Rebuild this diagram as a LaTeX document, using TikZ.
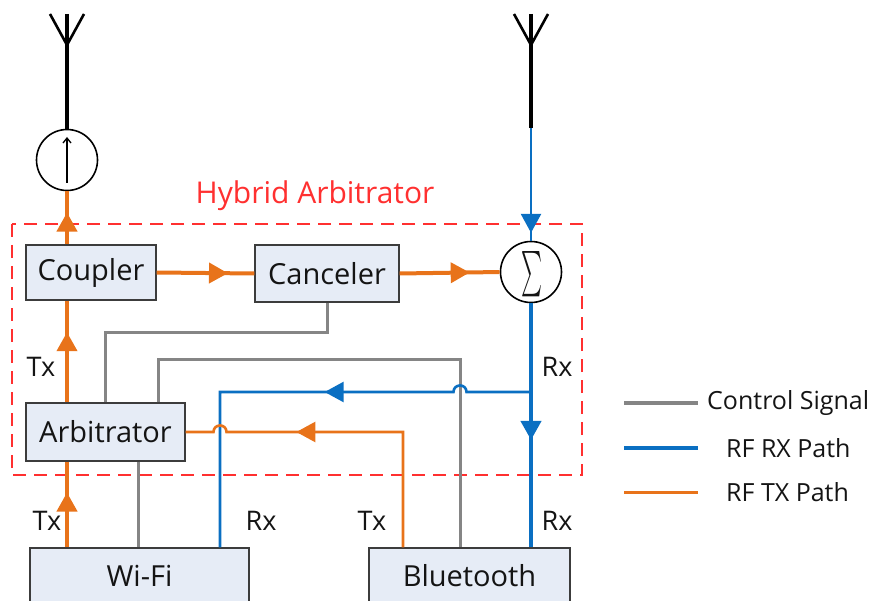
\documentclass[tikz,border=0pt]{standalone}
\usepackage{fontspec}
\usepackage{graphicx}
\setmainfont{Open Sans}
\usetikzlibrary{arrows.meta,decorations.markings,calc}
\definecolor{txc}{HTML}{E8731A}
\definecolor{rxc}{HTML}{0A6FC2}
\definecolor{ctlc}{HTML}{858585}
\definecolor{hybc}{HTML}{FF3030}
\definecolor{boxfill}{HTML}{E6ECF6}
\definecolor{boxline}{HTML}{3C3C3C}
\definecolor{ink}{HTML}{141414}
\begin{document}
\begin{tikzpicture}[x=1pt,y=-1pt,
  blk/.style={draw=boxline, line width=1.3pt, fill=boxfill, inner sep=0pt, text=ink, font=\fontsize{29}{29}\selectfont},
  lbl/.style={text=ink, inner sep=0pt, font=\fontsize{27}{27}\selectfont},
  leg/.style={text=ink, inner sep=0pt, anchor=west, font=\fontsize{25}{25}\selectfont},
  circ/.style={circle, draw=black, line width=1.6pt, fill=white, minimum size=61pt, inner sep=0pt},
  txthick/.style={draw=txc, line width=4pt},
  txthin/.style={draw=txc, line width=2.6pt},
  rxthick/.style={draw=rxc, line width=4pt},
  rxthin/.style={draw=rxc, line width=2.6pt},
  ctl/.style={draw=ctlc, line width=3pt},
  ant/.style={draw=black, line width=4pt},
  antarm/.style={draw=black, line width=2.6pt},
  midarrow/.style={postaction={decorate}, decoration={markings, mark=at position #1 with {\arrow{Triangle[length=19pt,width=20pt]}}}}
]
\useasboundingbox (0,0) rectangle (874,601);

% hybrid arbitrator frame
\draw[hybc, line width=1.8pt, dash pattern=on 13pt off 8pt] (12,224) rectangle (582,475);
\node[text=hybc, inner sep=0pt, font=\fontsize{30}{30}\selectfont] (hyb) at (315,196) {Hybrid Arbitrator};

% blocks
\node[blk, minimum width=130pt, minimum height=55pt] (coupler) at (91,272.5) {Coupler};
\node[blk, minimum width=144pt, minimum height=57pt] (canceler) at (327,273.5) {Canceler};
\node[blk, minimum width=159pt, minimum height=58pt] (arb) at (105.5,432) {Arbitrator};
\node[blk, minimum width=219pt, minimum height=55pt] (wifi) at (139.5,575.5) {Wi-Fi};
\node[blk, minimum width=201pt, minimum height=55pt] (bt) at (469.5,575.5) {Bluetooth};
\node[circ] (iso) at (67,160) {};
\node[circ] (sum) at (531,272) {};
\node[inner sep=0pt, text=ink] (sigma) at (532,274) {\resizebox{21pt}{34pt}{$\sum$}};

% lanes
\coordinate (lx) at (67,0);
\coordinate (wrx) at (220,0);
\coordinate (btx) at (403,0);
\coordinate (btg) at (460,0);
\coordinate (ant1) at (67,14);
\coordinate (ant2) at (531,14);
\coordinate (ant2b) at (531,128);
\coordinate (rxsplit) at (531,392);

% antennas
\draw[ant] (ant1) -- (iso.north);
\draw[antarm] (50,14) -- (67,45) -- (84,14);
\draw[rxthin, midarrow=0.93] (ant2b) -- (sum.north);
\draw[ant] (ant2) -- (ant2b);
\draw[antarm] (514,14) -- (531,45) -- (548,14);
\draw[line width=1.3pt, -{Straight Barb[length=5pt,width=8pt]}] (67,183) -- (67,137);

% control signals
\draw[ctl] (canceler.south) -- ++(0,30) -| (arb.north);
\draw[ctl] ([xshift=-27pt]arb.north east) -- ++(0,-43) -| (bt.north -| btg);
\draw[ctl] ([xshift=32.5pt]arb.south) -- ([xshift=32.5pt]arb.south |- wifi.north);

% RF RX
\draw[rxthick, midarrow=0.56] (sum.south) -- (bt.north -| sum.south);
\draw[rxthin, midarrow=214pt] (rxsplit) -- (466.5,392) .. controls (466.5,383.3) and (453.5,383.3) .. (453.5,392) -- (220,392) -- (wifi.north -| wrx);

% RF TX
\draw[txthick, midarrow=0.64] (wifi.north -| lx) -- (arb.south -| lx);
\draw[txthick, midarrow=0.69] (arb.north -| lx) -- (coupler.south -| lx);
\draw[txthick, midarrow=0.6] (coupler.north -| lx) -- (iso.south);
\draw[txthick, midarrow=0.73] (coupler.east) -- (canceler.east -| canceler.west);
\draw[txthick, midarrow=0.7] (canceler.east) -- (sum.west);
\draw[txthin, midarrow=222pt] (bt.north -| btx) -- (403,432) -- (226.5,432) .. controls (226.5,423.3) and (213.5,423.3) .. (213.5,432) -- (arb.east);

% labels
\node[lbl] (t1) at (41,367) {Tx};
\node[lbl] (t2) at (47,521) {Tx};
\node[lbl] (r1) at (261,521) {Rx};
\node[lbl] (t3) at (372,521) {Tx};
\node[lbl] (r2) at (557,521) {Rx};
\node[lbl] (r3) at (557,367) {Rx};

% legend
\draw[ctl, line width=4pt] (624,403) -- (698,403);
\draw[rxthick] (624,448) -- (698,448);
\draw[txthin, line width=3pt] (624,492) -- (698,492);
\node[leg] (l1) at (707,403) {Control Signal};
\node[leg] (l2) at (726,448) {RF RX Path};
\node[leg] (l3) at (726,492) {RF TX Path};
\end{tikzpicture}
\end{document}
